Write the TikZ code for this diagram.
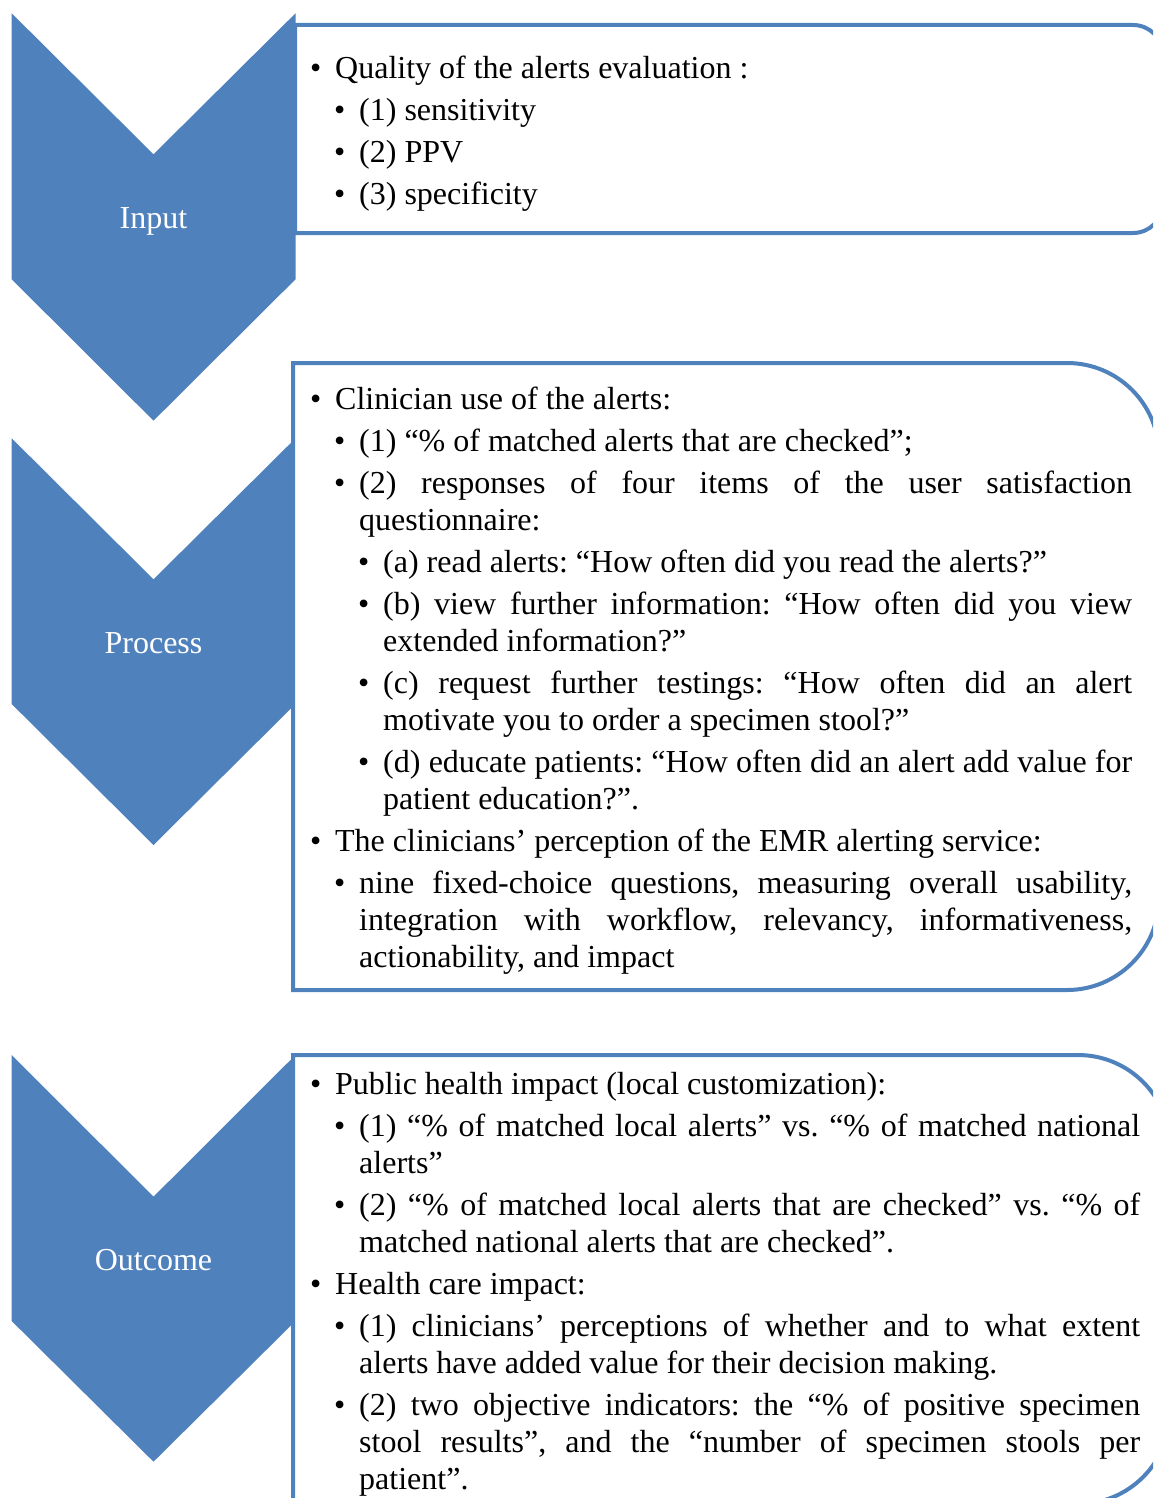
\documentclass[tikz,border=0pt]{standalone}
\usepackage{fontspec}
\setmainfont{Liberation Serif}
\definecolor{acc}{HTML}{4F81BD}
\newcommand{\lvA}{\par\leftskip=25pt\relax\noindent\llap{\makebox[25pt][l]{•}}}
\newcommand{\lvB}{\par\leftskip=49pt\relax\noindent\llap{\makebox[25pt][l]{•}}}
\newcommand{\lvC}{\par\leftskip=73pt\relax\noindent\llap{\makebox[25pt][l]{•}}}
\newcommand{\bodyset}{\fontsize{32}{37}\selectfont\setlength{\parskip}{5pt}\frenchspacing
  \hyphenpenalty=10000\exhyphenpenalty=10000\tolerance=10000\emergencystretch=20pt
  \rightskip=0pt\relax\spaceskip=0pt\relax\xspaceskip=0pt\relax\parindent=0pt\relax
  \parfillskip=0pt plus 1fil\relax}
\begin{document}
\begin{tikzpicture}[x=1pt,y=-1pt,
  chev/.style={fill=acc,draw=none},
  panel/.style={draw=acc,line width=4pt,fill=white},
  lbl/.style={text=white,font=\fontsize{32}{37}\selectfont,inner sep=0pt,anchor=base},
  body/.style={inner sep=0pt,anchor=base west,text=black}]
\useasboundingbox (0,0) rectangle (1153,1498);
\clip (0,0) rectangle (1153,1498);
% chevrons
\fill[chev] (11.7,13.3) -- (153.5,154.3) -- (295.5,13.3) -- (295.5,279.3) -- (153.5,420.7) -- (11.7,279.3) -- cycle;
\fill[chev] (11.7,438.3) -- (153.5,579.3) -- (295.5,438.3) -- (295.5,704) -- (153.5,845) -- (11.7,704) -- cycle;
\fill[chev] (11.7,1055) -- (153.5,1196.7) -- (295.5,1055) -- (295.5,1321) -- (153.5,1461.7) -- (11.7,1321) -- cycle;
% panels
\draw[panel] (295,25) -- (1133,25) arc[start angle=-90,end angle=0,radius=30] -- (1163,203) arc[start angle=0,end angle=90,radius=30] -- (295,233) -- cycle;
\draw[panel] (293,363) -- (1067,363) arc[start angle=-90,end angle=0,radius=92] -- (1159,898) arc[start angle=0,end angle=90,radius=92] -- (293,990) -- cycle;
\draw[panel] (293,1055) -- (1078,1055) arc[start angle=-90,end angle=0,radius=92] -- (1170,1412) arc[start angle=0,end angle=90,radius=92] -- (293,1504) -- cycle;
% labels
\node[lbl] (inp) at (153.5,228) {Input};
\node[lbl] (pro) at (153.5,653) {Process};
\node[lbl] (out) at (153.5,1270) {Outcome};
% texts
\node[body] (t1) at (310,79) {\begin{minipage}[t]{800pt}\bodyset
\lvA Quality of the alerts evaluation :
\lvB (1) sensitivity
\lvB (2) PPV
\lvB (3) specificity\par\end{minipage}};
\node[body] (t2) at (310,409) {\begin{minipage}[t]{822pt}\bodyset
\lvA Clinician use of the alerts:
\lvB (1) “\% of matched alerts that are checked”;
\lvB (2) responses of four items of the user satisfaction\linebreak questionnaire:
\lvC (a) read alerts: “How often did you read the alerts?”
\lvC (b) view further information: “How often did you view\linebreak extended information?”
\lvC (c) request further testings: “How often did an alert\linebreak motivate you to order a specimen stool?”
\lvC (d) educate patients: “How often did an alert add value for\linebreak patient education?”.
\lvA The clinicians’ perception of the EMR alerting service:
\lvB nine fixed-choice questions, measuring overall usability,\linebreak integration with workflow, relevancy, informativeness,\linebreak actionability, and impact\par\end{minipage}};
\node[body] (t3) at (310,1094) {\begin{minipage}[t]{830pt}\bodyset
\lvA Public health impact (local customization):
\lvB (1) “\% of matched local alerts” vs. “\% of matched national\linebreak alerts”
\lvB (2) “\% of matched local alerts that are checked” vs. “\% of\linebreak matched national alerts that are checked”.
\lvA Health care impact:
\lvB (1) clinicians’ perceptions of whether and to what extent\linebreak alerts have added value for their decision making.
\lvB (2) two objective indicators: the “\% of positive specimen\linebreak stool results”, and the “number of specimen stools per\linebreak patient”.\par\end{minipage}};
\end{tikzpicture}
\end{document}
